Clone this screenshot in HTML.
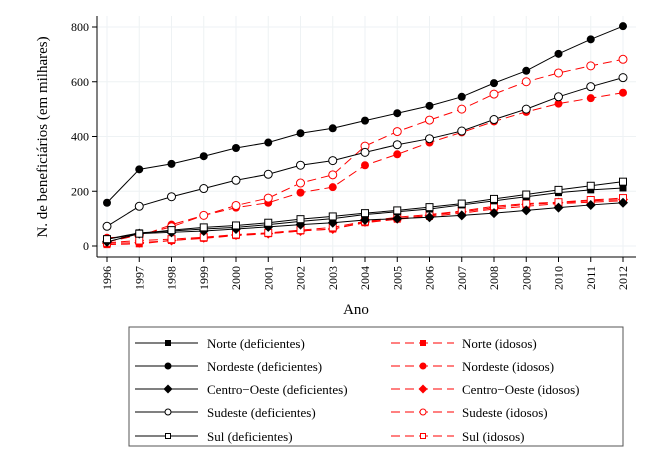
<!DOCTYPE html>
<html><head><meta charset="utf-8"><style>
body{margin:0;background:#fff}
svg{display:block;font-family:"Liberation Serif",serif}
</style></head><body>
<svg id="c" width="650" height="473" viewBox="0 0 650 473"></svg>
<script>
const years=[1996,1997,1998,1999,2000,2001,2002,2003,2004,2005,2006,2007,2008,2009,2010,2011,2012];
const norteDef=[25,48,55,62,68,78,90,100,115,125,135,150,165,180,195,205,212];
const nordesteDef=[158,280,300,328,358,378,412,430,458,485,512,545,595,640,702,755,803];
const coDef=[15,45,50,55,62,70,78,85,95,100,105,112,120,130,140,150,158];
const sudesteDef=[72,145,180,210,240,262,295,312,342,370,392,420,462,500,545,582,615];
const sulDef=[25,45,58,68,75,85,98,108,120,130,142,155,172,188,205,220,235];
const norteId=[5,8,20,28,38,45,55,62,85,98,108,120,135,145,155,160,165];
const nordesteId=[30,35,78,112,140,158,195,215,295,335,378,415,455,490,520,540,560];
const coId=[10,12,20,30,40,45,55,62,88,100,112,125,140,152,158,165,170];
const sudesteId=[15,40,70,112,148,175,230,260,365,418,460,500,555,600,632,658,682];
const sulId=[12,20,25,32,42,48,58,68,90,105,115,128,145,155,160,168,175];
const yTicks=[0,200,400,600,800];
const names=["Norte","Nordeste","Centro\u2212Oeste","Sudeste","Sul"];
const NS="http://www.w3.org/2000/svg";
const svg=document.getElementById('c');
const X=v=>107+(v-1996)*(623-107)/16;
const Y=v=>246-v*219/800;
function el(t,a,p){const e=document.createElementNS(NS,t);for(const k in a)e.setAttribute(k,a[k]);(p||svg).appendChild(e);return e;}
// grid & axes
yTicks.forEach(t=>{
 const g=el('line',{x1:97,x2:636,y1:Y(t),y2:Y(t),stroke:'#eef2f4','stroke-width':1});
 
 
 el('line',{x1:92,x2:97,y1:Y(t),y2:Y(t),stroke:'#000'});
 const tx=el('text',{x:89,y:Y(t)+4,'text-anchor':'end','font-size':12});
 tx.textContent=t;
 
 
});
years.forEach(y=>{
 el('line',{x1:X(y),x2:X(y),y1:16,y2:257,stroke:'#eef2f4'});
 el('line',{x1:X(y),x2:X(y),y1:257,y2:262,stroke:'#000'});
 const tx=el('text',{x:0,y:0,'text-anchor':'end','font-size':12,transform:`translate(${X(y)+4},266) rotate(-90)`});
 tx.textContent=y;
 
 
});
el('line',{x1:97,x2:97,y1:16,y2:257,stroke:'#000'});
el('line',{x1:97,x2:636,y1:257,y2:257,stroke:'#000'});
const xt=el('text',{x:356,y:314,'text-anchor':'middle','font-size':15});xt.textContent='Ano';

const yt=el('text',{x:0,y:0,'text-anchor':'middle','font-size':15,transform:'translate(47,137) rotate(-90)'});yt.textContent='N. de beneficiários (em milhares)';

function marker(g,kind,x,y,col,r){
 if(kind==0) el('rect',{x:x-r,y:y-r,width:2*r,height:2*r,fill:col},g);
 else if(kind==1) el('circle',{cx:x,cy:y,r:r+0.5,fill:col},g);
 else if(kind==2) el('polygon',{points:`${x},${y-r-1.5} ${x+r+1.5},${y} ${x},${y+r+1.5} ${x-r-1.5},${y}`,fill:col},g);
 else if(kind==3) el('circle',{cx:x,cy:y,r:r+0.5,fill:'#fff',stroke:col,'stroke-width':1},g);
 else el('rect',{x:x-r,y:y-r,width:2*r,height:2*r,fill:'#fff',stroke:col,'stroke-width':1},g);
}
const defs=[norteDef,nordesteDef,coDef,sudesteDef,sulDef];
const ids=[norteId,nordesteId,coId,sudesteId,sulId];
function series(data,kind,col,dash,name){
 const g=el('g',{});
 
 
 el('polyline',{points:data.map((v,i)=>X(years[i])+','+Y(v)).join(' '),fill:'none',stroke:col,'stroke-width':1,'stroke-dasharray':dash},g);
 data.forEach((v,i)=>marker(g,kind,X(years[i]),Y(v),col,3.5));
}
ids.forEach((d,k)=>series(d,k,'#f00','9,5','series-'+k+'-idosos'));
defs.forEach((d,k)=>series(d,k,'#000','none','series-'+k+'-deficientes'));
// legend
const lg=el('g',{});
el('rect',{x:129,y:327,width:494,height:119,fill:'#fff',stroke:'#555','stroke-width':1},lg);
const rows=[343,366,389,412,436];
names.forEach((n,k)=>{
 const e1=el('g',{},lg);
 el('line',{x1:135,x2:198,y1:rows[k],y2:rows[k],stroke:'#000'},e1);
 marker(e1,k,168,rows[k],'#000',k<3?3:2.5);
 const t1=el('text',{x:207,y:rows[k]+5,'font-size':13},e1);t1.textContent=n+' (deficientes)';
 const e2=el('g',{},lg);
 el('line',{x1:391,x2:454,y1:rows[k],y2:rows[k],stroke:'#f00','stroke-dasharray':'9,5'},e2);
 marker(e2,k,423,rows[k],'#f00',k<3?3:2.5);
 const t2=el('text',{x:462,y:rows[k]+5,'font-size':13},e2);t2.textContent=n+' (idosos)';
});
</script>
</body></html>
